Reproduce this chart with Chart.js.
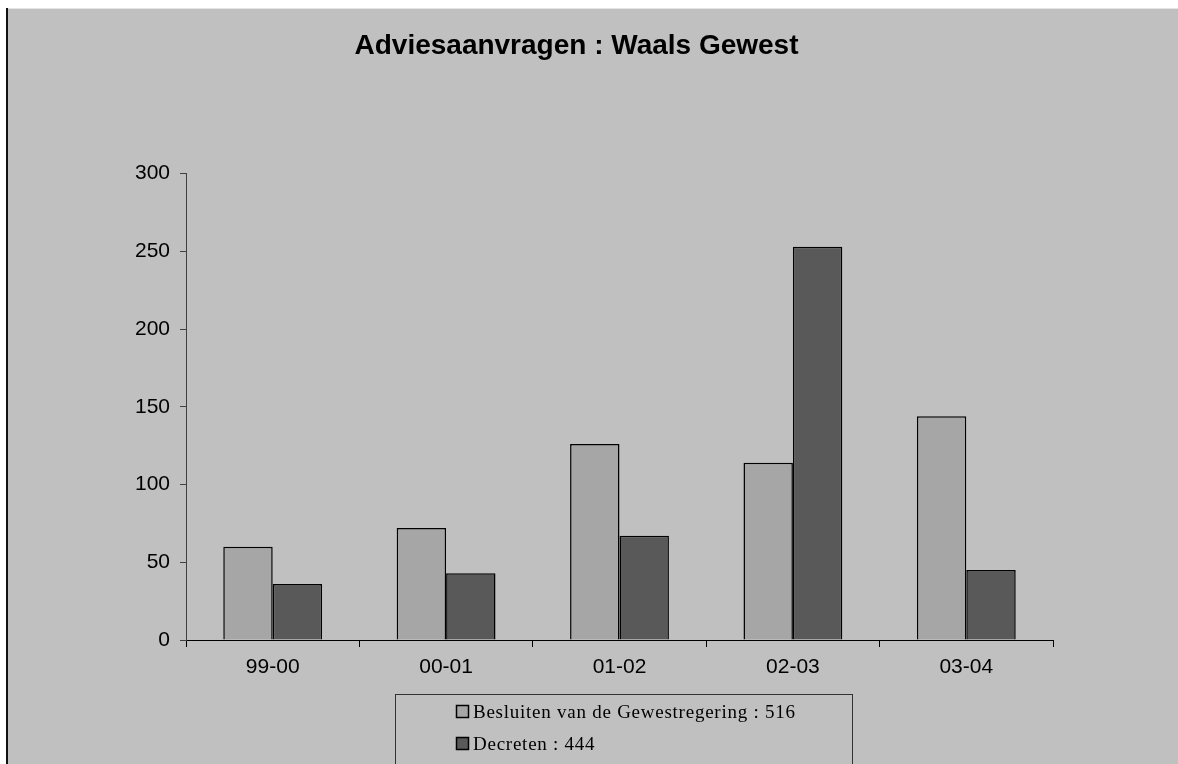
<!DOCTYPE html>
<html>
<head>
<meta charset="utf-8">
<script src="https://cdn.jsdelivr.net/npm/chart.js@4"></script>
<style>
  body { margin: 0; background: #fff; }
</style>
</head>
<body>
<canvas id="advies" width="1178" height="764"></canvas>
<script>
var seasons = ["99-00", "00-01", "01-02", "02-03", "03-04"];
var besluiten = [60, 72, 126, 114, 144];
var decreten = [36, 43, 67, 253, 45];
var yTicks = [0, 50, 100, 150, 200, 250, 300];

function total(arr) {
    return arr.reduce(function (a, b) { return a + b; }, 0);
}

// gray frame + boxed legend, drawn like the old spreadsheet chart
var frame = {
    id: 'frame',
    beforeDraw: function (chart) {
        var c = chart.ctx;
        c.save();
        c.fillStyle = '#ffffff';
        c.fillRect(0, 0, chart.width, chart.height);
        c.fillStyle = '#c0c0c0';
        c.fillRect(8, 9, chart.width - 8, chart.height - 9);
        c.fillStyle = '#e4e4e4';
        c.fillRect(8, 8, chart.width - 8, 1);
        c.fillStyle = '#111111';
        c.fillRect(6, 8, 2, chart.height - 8);
        c.restore();
    },
    afterDraw: function (chart) {
        var c = chart.ctx;
        c.save();
        c.strokeStyle = '#333333';
        c.lineWidth = 1;
        c.strokeRect(395.5, 694.5, 457, 100);
        c.font = '19px "Liberation Serif", "Times New Roman", serif';
        c.letterSpacing = '0.75px';
        c.textBaseline = 'middle';
        chart.data.datasets.forEach(function (ds, i) {
            var y = 712 + i * 32;
            c.fillStyle = ds.backgroundColor;
            c.fillRect(456, y - 7, 13, 13);
            c.strokeStyle = '#000000';
            c.lineWidth = 1.5;
            c.strokeRect(456.5, y - 6.5, 12, 12);
            c.fillStyle = '#000000';
            c.fillText(ds.label + ' : ' + total(ds.data), 473, y + 1);
        });
        c.restore();
    }
};

var ctx = document.getElementById('advies').getContext('2d');
var myChart = new Chart(ctx, {
    type: 'bar',
    data: {
        labels: seasons,
        datasets: [{
            label: 'Besluiten van de Gewestregering',
            data: besluiten,
            backgroundColor: '#a6a6a6',
            borderColor: '#000000',
            borderWidth: 1.5,
            barPercentage: 1,
            categoryPercentage: 0.57
        },
        {
            label: 'Decreten',
            data: decreten,
            backgroundColor: '#595959',
            borderColor: '#000000',
            borderWidth: 1.5,
            barPercentage: 1,
            categoryPercentage: 0.57
        }]
    },
    options: {
        responsive: false,
        animation: false,
        layout: {
            padding: { left: 100, right: 125, top: 0, bottom: 84 }
        },
        plugins: {
            legend: { display: false },
            tooltip: { enabled: false },
            title: {
                display: true,
                text: 'Adviesaanvragen : Waals Gewest',
                color: '#000000',
                font: {
                    family: '"Liberation Sans", Arial, sans-serif',
                    size: 28,
                    weight: 'bold'
                },
                padding: { top: 29, bottom: 111 }
            }
        },
        scales: {
            x: {
                afterFit: function (scale) { scale.height = 40; },
                grid: {
                    offset: true,
                    drawOnChartArea: false,
                    color: '#000000',
                    tickLength: 7
                },
                border: { color: '#000000', width: 1 },
                ticks: {
                    color: '#000000',
                    padding: 8,
                    font: { family: '"Liberation Sans", Arial, sans-serif', size: 21 }
                }
            },
            y: {
                min: 0,
                max: 300,
                afterFit: function (scale) { scale.width = 86; },
                afterBuildTicks: function (scale) {
                    scale.ticks = yTicks.map(function (v) { return { value: v }; });
                },
                grid: {
                    drawOnChartArea: false,
                    color: '#404040',
                    tickLength: 6
                },
                border: { color: '#404040', width: 1 },
                ticks: {
                    color: '#000000',
                    padding: 10,
                    font: { family: '"Liberation Sans", Arial, sans-serif', size: 21 }
                }
            }
        }
    },
    plugins: [frame]
});
</script>
</body>
</html>
